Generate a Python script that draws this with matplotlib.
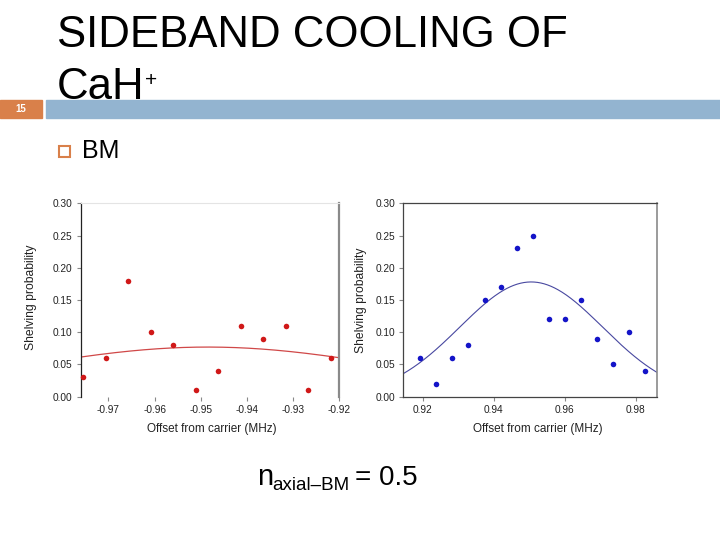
import numpy as np
import matplotlib
matplotlib.use("Agg")
import matplotlib.pyplot as plt
from matplotlib.patches import Rectangle

# ---- data ----
left_x = [-0.9755, -0.9706, -0.9657, -0.9608, -0.9560, -0.9511,
          -0.9462, -0.9413, -0.9365, -0.9316, -0.9268, -0.9219]
left_y = [0.03, 0.06, 0.18, 0.10, 0.08, 0.01, 0.04, 0.11, 0.09, 0.11, 0.01, 0.06]
left_fit = dict(amp=0.077, center=-0.9485, sigma=0.041)

right_x = [0.9191, 0.9238, 0.9283, 0.9328, 0.9374, 0.9419, 0.9464, 0.9509,
           0.9555, 0.9600, 0.9645, 0.9691, 0.9736, 0.9781, 0.9826]
right_y = [0.06, 0.02, 0.06, 0.08, 0.15, 0.17, 0.23, 0.25, 0.12, 0.12,
           0.15, 0.09, 0.05, 0.10, 0.04]
right_fit = dict(amp=0.178, center=0.9505, sigma=0.0201)

left_xticks = [-0.97, -0.96, -0.95, -0.94, -0.93, -0.92]
right_xticks = [0.92, 0.94, 0.96, 0.98]
yticks = [0.00, 0.05, 0.10, 0.15, 0.20, 0.25, 0.30]

title_line1 = "SIDEBAND COOLING OF"
title_line2 = "CaH"
bullet_text = "BM"
slide_number = "15"

FONT = "Liberation Sans"
plt.rcParams['font.family'] = [FONT, 'DejaVu Sans']

fig = plt.figure(figsize=(7.2, 5.4), dpi=100)
W, H = 720, 540

def fx(px):
    return px / W

def fy(py):
    return 1 - py / H

# ---- slide decoration ----
fig.patches.append(Rectangle((0, fy(118)), fx(42), (118 - 100) / H,
                             transform=fig.transFigure, color="#D9804A", zorder=1))
fig.patches.append(Rectangle((fx(46), fy(118)), 1 - fx(46), (118 - 100) / H,
                             transform=fig.transFigure, color="#93B4D0", zorder=1))
fig.text(fx(21), fy(109), slide_number, color="white", fontsize=7, fontweight="bold",
         ha="center", va="center")
fig.text(fx(57), fy(47), title_line1, fontsize=31.5, ha="left", va="baseline", color="black")
fig.text(fx(57), fy(99), title_line2, fontsize=31.5, ha="left", va="baseline", color="black")
fig.text(fx(145), fy(80), "+", fontsize=15, ha="left", va="center", color="black")

fig.patches.append(Rectangle((fx(58.5), fy(157)), 11 / W, 11 / H, transform=fig.transFigure,
                             facecolor="none", edgecolor="#D9804A", lw=1.5, zorder=2))
fig.text(fx(82), fy(158), bullet_text, fontsize=18, ha="left", va="baseline", color="black")

# equation
fig.text(fx(257), fy(485), "n", fontsize=21, ha="left", va="baseline", color="black")
fig.text(fx(272), fy(490), "axial\u2013BM", fontsize=13.5, ha="left", va="baseline", color="black")
fig.text(fx(355), fy(485), "= 0.5", fontsize=20, ha="left", va="baseline", color="black")

def style_common(ax, xticks, xlim):
    ax.set_xlim(*xlim)
    ax.set_ylim(0, 0.30)
    ax.set_yticks(yticks)
    ax.set_yticklabels([f"{v:.2f}" for v in yticks])
    ax.set_xticks(xticks)
    ax.set_xticklabels([f"{v:.2f}" for v in xticks])
    ax.tick_params(direction="out", length=3, width=0.8, color="#888888",
                   labelsize=7.3, labelcolor="#222222", pad=3)
    ax.set_ylabel("Shelving probability", fontsize=8.7, color="#222222")
    ax.set_xlabel("Offset from carrier (MHz)", fontsize=8.5, color="#222222")

# ---- left plot ----
axL = fig.add_axes([fx(80.7), fy(396.7), (339.3 - 80.7) / W, (396.7 - 203.3) / H])
style_common(axL, left_xticks, (-0.976, -0.92))
xxL = np.linspace(-0.976, -0.92, 300)
axL.plot(xxL, left_fit["amp"] * np.exp(-(xxL - left_fit["center"]) ** 2 / (2 * left_fit["sigma"] ** 2)),
         color="#D04848", lw=0.9, zorder=2)
axL.scatter(left_x, left_y, s=16, color="#D01818", zorder=3, clip_on=False, linewidths=0)
axL.spines["bottom"].set_visible(False)
axL.spines["top"].set_color("#E4E4E4")
axL.spines["top"].set_linewidth(0.8)
axL.spines["left"].set_color("#222222")
axL.spines["left"].set_linewidth(0.9)
axL.spines["right"].set_color("#8A8A8A")
axL.spines["right"].set_linewidth(1.6)
axL.yaxis.set_label_coords(-0.169, 0.515)
axL.xaxis.set_label_coords(0.507, -0.136)

# ---- right plot ----
axR = fig.add_axes([fx(403.3), fy(396.7), (657.3 - 403.3) / W, (396.7 - 203.3) / H])
style_common(axR, right_xticks, (0.9145, 0.986))
xxR = np.linspace(0.9145, 0.986, 300)
axR.plot(xxR, right_fit["amp"] * np.exp(-(xxR - right_fit["center"]) ** 2 / (2 * right_fit["sigma"] ** 2)),
         color="#4848A0", lw=0.8, zorder=2)
axR.scatter(right_x, right_y, s=16, color="#1414C8", zorder=3, clip_on=False, linewidths=0)
for side in ["left", "bottom", "top"]:
    axR.spines[side].set_color("#444444")
    axR.spines[side].set_linewidth(0.9)
axR.spines["right"].set_color("#8A8A8A")
axR.spines["right"].set_linewidth(1.2)
axR.yaxis.set_label_coords(-0.143, 0.5)
axR.xaxis.set_label_coords(0.53, -0.136)

fig.savefig("out.png", dpi=100)
